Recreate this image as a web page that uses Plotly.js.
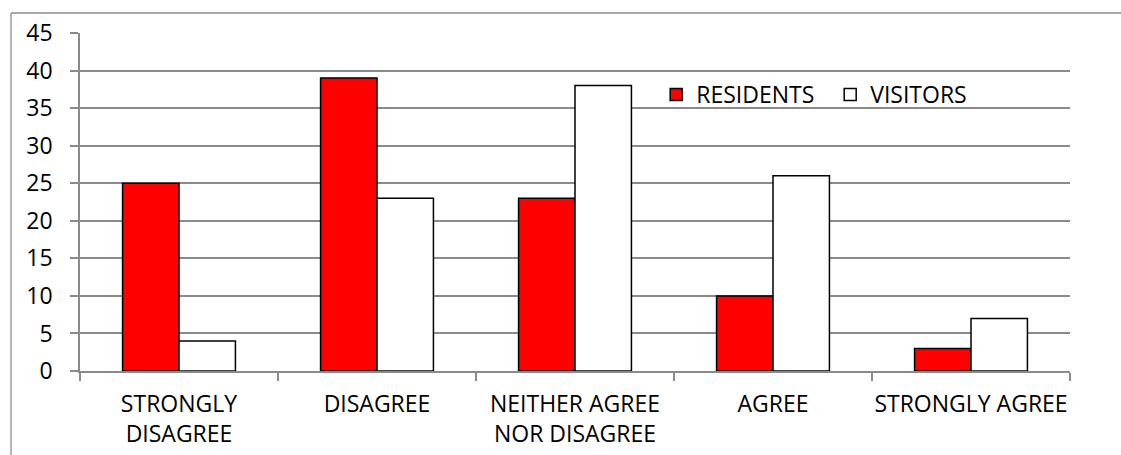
<!DOCTYPE html>
<html>
<head>
<meta charset="utf-8">
<script src="https://cdn.plot.ly/plotly-3.0.1.min.js"></script>
<style>
  html, body { margin: 0; padding: 0; background: #ffffff; }
  #chart { width: 1121px; height: 455px; }
</style>
</head>
<body>
<div id="chart"></div>
<script>
// Response categories on the x axis
const categories = [
  "STRONGLY<br>DISAGREE",
  "DISAGREE",
  "NEITHER AGREE<br>NOR DISAGREE",
  "AGREE",
  "STRONGLY AGREE"
];

// Number of responses per group
const residents = [25, 39, 23, 10, 3];
const visitors  = [4, 23, 38, 26, 7];

const yTicks = [0, 5, 10, 15, 20, 25, 30, 35, 40, 45];

const FONT = { family: "Open Sans, Liberation Sans, sans-serif", size: 23, color: "#000000" };
const GRID = "#8a8a8a";

const traces = [
  {
    type: "bar",
    name: "RESIDENTS",
    x: categories,
    y: residents,
    marker: { color: "#ff0000", line: { color: "#000000", width: 1.5 } },
    hoverinfo: "x+y+name"
  },
  {
    type: "bar",
    name: "VISITORS",
    x: categories,
    y: visitors,
    marker: { color: "#ffffff", line: { color: "#000000", width: 1.5 } },
    hoverinfo: "x+y+name"
  }
];

const layout = {
  width: 1121,
  height: 455,
  margin: { l: 80, r: 51, t: 33, b: 84, pad: 0 },
  paper_bgcolor: "#ffffff",
  plot_bgcolor: "#ffffff",
  font: FONT,
  barmode: "group",
  bargap: 0.43,
  bargroupgap: 0,
  showlegend: true,
  legend: {
    orientation: "h",
    x: 0.582,
    xanchor: "left",
    y: 0.818,
    yanchor: "middle",
    bgcolor: "rgba(0,0,0,0)",
    font: FONT,
    entrywidth: 129,
    entrywidthmode: "pixels",
    traceorder: "normal"
  },
  xaxis: {
    type: "category",
    showgrid: false,
    showline: true,
    linecolor: GRID,
    linewidth: 1.5,
    ticks: "outside",
    tickson: "boundaries",
    ticklen: 8,
    tickcolor: GRID,
    tickwidth: 1.5,
    tickfont: FONT,
    tickangle: 0,
    ticklabelstandoff: 12,
    automargin: false,
    zeroline: false,
    fixedrange: true
  },
  yaxis: {
    range: [0, 45],
    tickmode: "array",
    tickvals: yTicks,
    ticktext: yTicks.map(String),
    showgrid: true,
    gridcolor: GRID,
    gridwidth: 1.5,
    showline: true,
    linecolor: GRID,
    linewidth: 1.5,
    ticks: "outside",
    ticklen: 8,
    tickcolor: GRID,
    tickwidth: 1.5,
    tickfont: FONT,
    ticklabelstandoff: 13,
    automargin: false,
    zeroline: false,
    fixedrange: true
  },
  shapes: [
    // Outer chart frame: left edge
    {
      type: "line",
      xref: "paper", yref: "paper",
      x0: (11 - 80) / 990, x1: (11 - 80) / 990,
      y0: (371 - 470) / 338, y1: (371 - 13) / 338,
      line: { color: "#8c8c8c", width: 1.3 },
      layer: "below"
    },
    // Outer chart frame: top edge
    {
      type: "line",
      xref: "paper", yref: "paper",
      x0: (11 - 80) / 990, x1: (1140 - 80) / 990,
      y0: (371 - 13) / 338, y1: (371 - 13) / 338,
      line: { color: "#8c8c8c", width: 1.3 },
      layer: "below"
    }
  ]
};

Plotly.newPlot("chart", traces, layout, { displayModeBar: false, staticPlot: false });
</script>
</body>
</html>
